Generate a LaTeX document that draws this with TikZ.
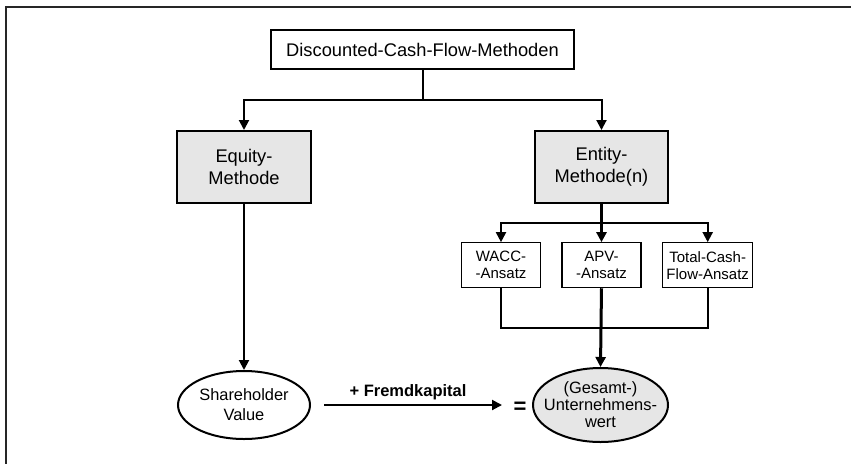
\documentclass[tikz,border=0pt]{standalone}
\usepackage{fontspec}
\setmainfont{Liberation Sans}
\usetikzlibrary{arrows.meta,shapes.geometric}
\definecolor{boxgray}{HTML}{E6E6E6}
\begin{document}
\begin{tikzpicture}[x=1pt,y=-1pt,
  mainbox/.style={draw,line width=2pt,inner sep=0pt,align=center,
    font=\fontsize{18.3}{22}\selectfont},
  subbox/.style={draw,line width=1.1pt,inner sep=0pt,align=center,
    minimum width=79pt,minimum height=45pt,font=\fontsize{15}{17}\selectfont},
  result/.style={draw,ellipse,line width=2pt,inner sep=0pt},
  resulttext/.style={inner sep=0pt,align=center},
  link/.style={line width=2pt},
  heavylink/.style={line width=3pt},
  tip/.style={-{Triangle[width=10pt,length=10pt]}}]
\useasboundingbox (0,0) rectangle (851,464);
% frame lines along the top and left edges
\draw[line width=2pt,black!85] (851,7) -- (6,7) -- (6,464);

% boxes
\node[mainbox,minimum width=303pt,minimum height=39pt] (dcf) at (422.5,49.5)
  {Discounted-Cash-Flow-Methoden};
\node[mainbox,fill=boxgray,minimum width=134pt,minimum height=72pt] (equity) at (244,167)
  {Equity-\\Methode};
\node[mainbox,fill=boxgray,minimum width=133pt,minimum height=72pt] (entity) at (601.5,167)
  {Entity-\\Methode(n)};
\node[subbox] (wacc) at (501,265.2) {WACC-\\-Ansatz};
\node[subbox] (apv) at (601.5,265.2) {APV-\\-Ansatz};
\node[subbox,minimum width=90pt] (tcf) at (707.7,265.2) {Total-Cash-\\Flow-Ansatz};

% result ellipses, with their texts set on top
\node[result,minimum width=132pt,minimum height=68pt] (sh) at (244,405) {};
\node[resulttext,font=\fontsize{16.4}{20}\selectfont] (shtext) at (sh.center)
  {Shareholder\\Value};
\node[result,fill=boxgray,minimum width=135pt,minimum height=74pt] (uw) at (600.5,405) {};
\node[resulttext,font=\fontsize{16.4}{17}\selectfont] (uwtext) at (uw.center)
  {(Gesamt-)\\Unternehmens-\\wert};
\node[font=\fontsize{22}{22}\selectfont\bfseries,inner sep=0pt] (eq) at (520,408) {=};

% connectors
\coordinate (split) at (422.5,99.5);
\coordinate (branch) at (601.5,223);
\coordinate (join) at (601.5,328);
\draw[link] (dcf.south) -- (split);
\draw[link,tip] (split) -| (equity.north);
\draw[link,tip] (split) -| (entity.north);
\draw[heavylink,tip] (entity.south) -- (apv.north);
\draw[link,tip] (branch) -| (wacc.north);
\draw[link,tip] (branch) -| (tcf.north);
\draw[link] (wacc.south) |- (join) -| (tcf.south);
\draw[heavylink,tip] (apv.south) -- (uw.north);
\draw[link,tip] (equity.south) -- (sh.north);
\draw[link,tip] ([xshift=13pt]sh.east) -- ([xshift=-30pt]uw.west)
  node[midway,above=1pt,xshift=-5pt,font=\fontsize{16.5}{17}\selectfont\bfseries]
  (fk) {+ Fremdkapital};
\end{tikzpicture}
\end{document}
